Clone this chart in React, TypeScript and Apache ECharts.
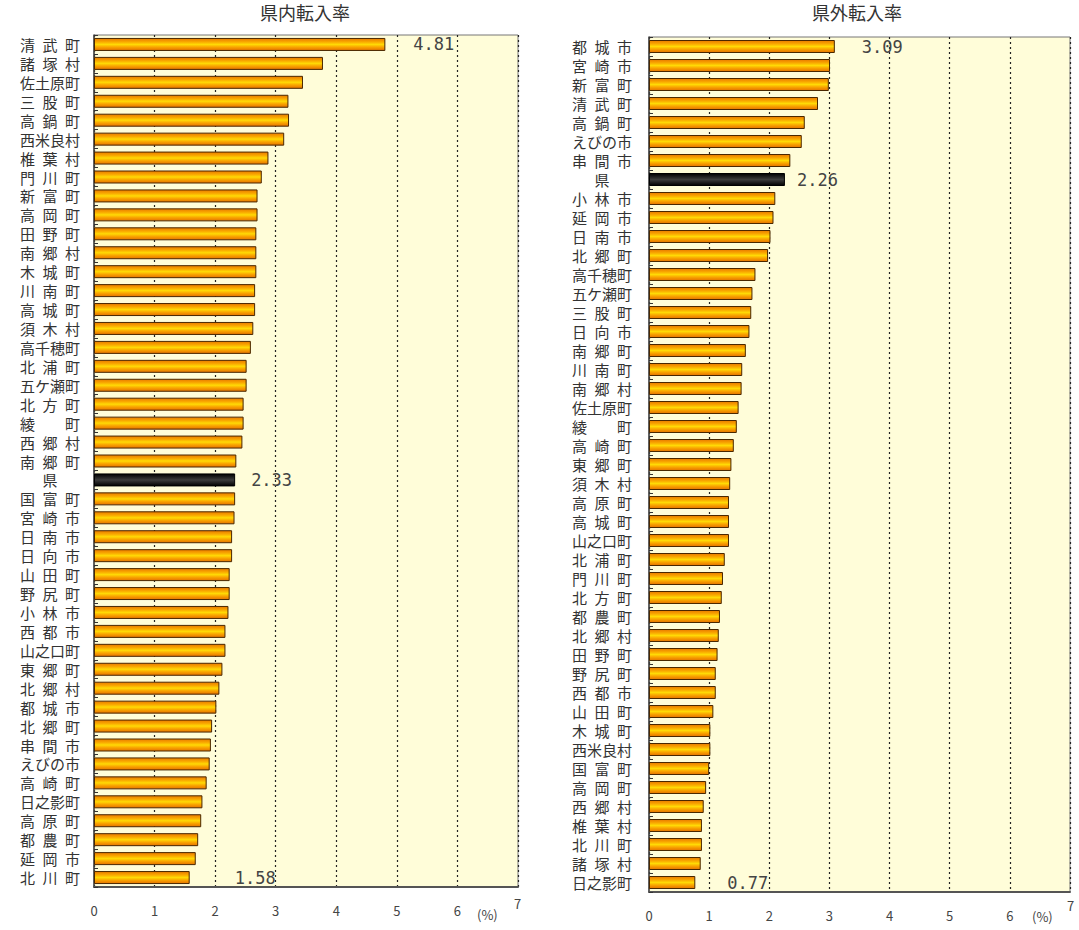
import React, { useEffect, useRef } from "react";
import * as echarts from "echarts";

const leftTitle = "県内転入率";
const rightTitle = "県外転入率";

const leftNames = [
  "清武町", "諸塚村", "佐土原町", "三股町", "高鍋町", "西米良村", "椎葉村", "門川町", "新富町", "高岡町",
  "田野町", "南郷村", "木城町", "川南町", "高城町", "須木村", "高千穂町", "北浦町", "五ケ瀬町", "北方町",
  "綾町", "西郷村", "南郷町", "県", "国富町", "宮崎市", "日南市", "日向市", "山田町", "野尻町",
  "小林市", "西都市", "山之口町", "東郷町", "北郷村", "都城市", "北郷町", "串間市", "えびの市", "高崎町",
  "日之影町", "高原町", "都農町", "延岡市", "北川町",
];
const leftValues = [
  4.81, 3.78, 3.45, 3.21, 3.22, 3.14, 2.88, 2.77, 2.7, 2.7,
  2.68, 2.68, 2.68, 2.66, 2.66, 2.63, 2.59, 2.52, 2.52, 2.47,
  2.47, 2.45, 2.35, 2.33, 2.33, 2.32, 2.28, 2.28, 2.24, 2.24,
  2.22, 2.17, 2.17, 2.12, 2.07, 2.02, 1.95, 1.93, 1.91, 1.86,
  1.79, 1.77, 1.72, 1.68, 1.58,
];

const rightNames = [
  "都城市", "宮崎市", "新富町", "清武町", "高鍋町", "えびの市", "串間市", "県", "小林市", "延岡市",
  "日南市", "北郷町", "高千穂町", "五ケ瀬町", "三股町", "日向市", "南郷町", "川南町", "南郷村", "佐土原町",
  "綾町", "高崎町", "東郷町", "須木村", "高原町", "高城町", "山之口町", "北浦町", "門川町", "北方町",
  "都農町", "北郷村", "田野町", "野尻町", "西都市", "山田町", "木城町", "西米良村", "国富町", "高岡町",
  "西郷村", "椎葉村", "北川町", "諸塚村", "日之影町",
];
const rightValues = [
  3.09, 3.01, 2.99, 2.81, 2.59, 2.54, 2.35, 2.26, 2.1, 2.07,
  2.02, 1.98, 1.77, 1.72, 1.7, 1.67, 1.61, 1.55, 1.54, 1.49,
  1.46, 1.41, 1.37, 1.35, 1.33, 1.33, 1.33, 1.26, 1.23, 1.21,
  1.18, 1.16, 1.14, 1.11, 1.11, 1.07, 1.02, 1.02, 1.0, 0.95,
  0.91, 0.88, 0.88, 0.86, 0.77,
];

const xMax = 7;
const unitLabel = "(%)";

const CJK = '"Noto Sans CJK JP", "Noto Sans", sans-serif';

const orangeFill = {
  type: "linear", x: 0, y: 0, x2: 0, y2: 1,
  colorStops: [
    { offset: 0, color: "#E97A00" },
    { offset: 0.28, color: "#F9A800" },
    { offset: 0.5, color: "#FFDA05" },
    { offset: 0.72, color: "#F9A400" },
    { offset: 1, color: "#E57200" },
  ],
};
const blackFill = {
  type: "linear", x: 0, y: 0, x2: 0, y2: 1,
  colorStops: [
    { offset: 0, color: "#000000" },
    { offset: 0.5, color: "#3c3c3c" },
    { offset: 1, color: "#000000" },
  ],
};

function fmtName(name: string) {
  const c = Array.from(name);
  if (c.length >= 4) return name;
  if (c.length === 3) return c.join("\u2002");
  if (c.length === 2) return c[0] + "\u3000\u3000" + c[1];
  return c[0] + "\u3000\u2002";
}

function buildData(names: string[], values: number[], distances: number[]) {
  const last = values.length - 1;
  return values.map((v, i) => {
    const isPref = names[i] === "県";
    const item: any = {
      value: v,
      itemStyle: {
        color: isPref ? blackFill : orangeFill,
        borderColor: isPref ? "#000" : "#4a2800",
        borderWidth: 1,
      },
    };
    let d = -1;
    if (i === 0) d = distances[0];
    else if (isPref) d = distances[1];
    else if (i === last) d = distances[2];
    if (d >= 0) {
      item.label = {
        show: true,
        position: "right",
        distance: d,
        formatter: (p: any) => p.value.toFixed(2),
        fontFamily: '"DejaVu Sans Mono", monospace',
        fontSize: 17,
        lineHeight: 17,
        color: "#444",
      };
    }
    return item;
  });
}

export default function App() {
  const ref = useRef<HTMLDivElement>(null);
  useEffect(() => {
    if (!ref.current) return;
    const chart = echarts.init(ref.current, undefined, { renderer: "svg" });
    const grids = [
      { left: 94, top: 35, width: 424, height: 852 },
      { left: 649, top: 37, width: 421, height: 855 },
    ];
    const xAxisBase = (gi: number) => ({
      type: "value",
      gridIndex: gi,
      min: 0,
      max: xMax,
      interval: 1,
      axisLine: { show: true, lineStyle: { color: "#555", width: 2 } },
      axisTick: { show: false },
      axisLabel: {
        margin: 17,
        fontSize: 13,
        color: "#444",
        fontFamily: CJK,
        formatter: (v: number) => (v === xMax ? "" : String(v)),
      },
      splitLine: { show: true, lineStyle: { color: "#222", type: [2, 3], width: 1.2 } },
    });
    const yAxisBase = (gi: number, names: string[], margin: number) => ({
      type: "category",
      gridIndex: gi,
      data: names,
      inverse: true,
      axisLine: { show: true, lineStyle: { color: "#444", width: 1.5 } },
      axisTick: { show: true, inside: true, length: 4, lineStyle: { color: "#333" } },
      axisLabel: {
        interval: 0,
        margin,
        fontSize: 15,
        lineHeight: 16,
        color: "#333",
        fontFamily: CJK,
        formatter: (v: string) => fmtName(v),
      },
      splitLine: { show: false },
    });
    const titleStyle = { fontSize: 18, fill: "#333", fontFamily: CJK };
    const smallStyle = { fontSize: 13, fill: "#444", fontFamily: CJK };
    chart.setOption({
      animation: false,
      backgroundColor: "#ffffff",
      grid: grids.map((g) => ({
        ...g,
        show: true,
        backgroundColor: "#FFFDD9",
        borderColor: "#777",
        borderWidth: 1,
        containLabel: false,
      })),
      xAxis: [xAxisBase(0), xAxisBase(1)],
      yAxis: [yAxisBase(0, leftNames, 14), yAxisBase(1, rightNames, 17)],
      series: [
        {
          type: "bar",
          xAxisIndex: 0,
          yAxisIndex: 0,
          barWidth: 13,
          data: buildData(leftNames, leftValues, [28, 16, 45]),
        },
        {
          type: "bar",
          xAxisIndex: 1,
          yAxisIndex: 1,
          barWidth: 13,
          data: buildData(rightNames, rightValues, [27, 12, 32]),
        },
      ],
      graphic: [
        { type: "text", left: 306 - 46, top: 3, style: { ...titleStyle, text: leftTitle } },
        { type: "text", left: 858 - 46, top: 3, style: { ...titleStyle, text: rightTitle } },
        { type: "text", x: 477, y: 908, style: { ...smallStyle, text: unitLabel } },
        { type: "text", x: 514, y: 897, style: { ...smallStyle, text: String(xMax) } },
        { type: "text", x: 1032, y: 910, style: { ...smallStyle, text: unitLabel } },
        { type: "text", x: 1067, y: 899, style: { ...smallStyle, text: String(xMax) } },
      ],
    });
    return () => chart.dispose();
  }, []);
  return (
    <div
      ref={ref}
      style={{ position: "fixed", left: 0, top: 0, width: 1079, height: 930 }}
    />
  );
}
